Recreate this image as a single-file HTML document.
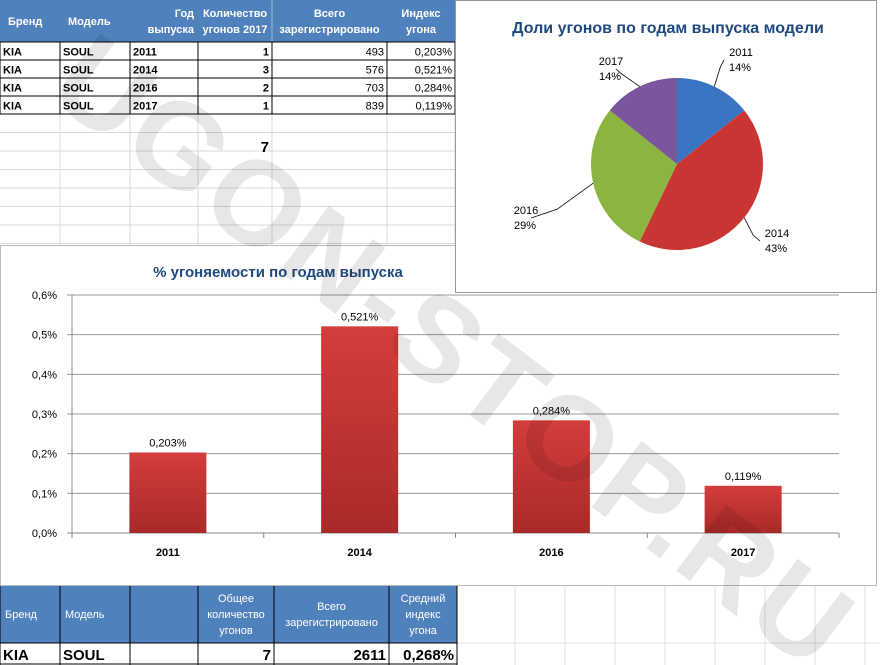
<!DOCTYPE html>
<html><head><meta charset="utf-8"><style>
html,body{margin:0;width:880px;height:665px;background:#fff;overflow:hidden;font-family:"Liberation Sans","DejaVu Sans",sans-serif;}
body{position:relative}
svg{position:absolute;left:0;top:0;display:block}
</style></head><body>
<svg id="s" width="880" height="665" font-family="Liberation Sans, DejaVu Sans, sans-serif" overflow="hidden">
<defs>
<linearGradient id="barg" x1="0" y1="0" x2="0" y2="1"><stop offset="0" stop-color="#d43d3b"/><stop offset="1" stop-color="#a82a28"/></linearGradient>
</defs>
<g id="gridG"></g>
<g id="topG"></g>
<g id="barG"></g>
<g id="pieG"></g>
<g id="botG"></g>
<text x="45" y="95" transform="rotate(37 45 95)" font-size="120" font-weight="bold" fill="#000" opacity="0.09" letter-spacing="4">UGON-STOP.RU</text>
</svg>
<script>
const NS='http://www.w3.org/2000/svg';
function mk(p,t,a,txt){const e=document.createElementNS(NS,t);for(const k in a)e.setAttribute(k,a[k]);if(txt!==undefined)e.textContent=txt;p.appendChild(e);return e;}
const gridG=document.getElementById('gridG'),topG=document.getElementById('topG'),barG=document.getElementById('barG'),pieG=document.getElementById('pieG'),botG=document.getElementById('botG');
// background grid
for(let y=114;y<245;y+=18.5){mk(gridG,'line',{x1:0,x2:455,y1:y,y2:y,stroke:'#d9d9d9'});}
[60,130,198,272,387,455].forEach(x=>mk(gridG,'line',{x1:x,x2:x,y1:42,y2:245,stroke:'#d9d9d9'}));
[515,565,615,665,715,765,815,865].forEach(x=>mk(gridG,'line',{x1:x,x2:x,y1:586,y2:665,stroke:'#e0e0e0'}));
mk(gridG,'line',{x1:457,x2:880,y1:643,y2:643,stroke:'#e0e0e0'});
// top table
const cols=[0,60,130,198,272,387,455];
const brands=['KIA','KIA','KIA','KIA'];
const models=['SOUL','SOUL','SOUL','SOUL'];
const years=['2011','2014','2016','2017'];
const thefts=[1,3,2,1];
const regs=[493,576,703,839];
const idx=['0,203%','0,521%','0,284%','0,119%'];
mk(topG,'rect',{x:0,y:0,width:455,height:42,fill:'#4f81bd'});
const hdr=[['Бренд'],['Модель'],['Год','выпуска'],['Количество','угонов 2017'],['Всего','зарегистрировано'],['Индекс','угона']];
hdr.forEach((h,i)=>{const cx=(cols[i]+cols[i+1])/2;
 if(h.length==1){const t=mk(topG,'text',{x:i<2?cols[i]+8:cx,y:25,'font-size':11,'font-weight':'bold',fill:'#fff','text-anchor':i<2?'start':'middle'},h[0]);}
 else{h.forEach((s,j)=>{const t=mk(topG,'text',{x:i==2?cols[i+1]-4:cx,y:17+j*16,'font-size':11,'font-weight':'bold',fill:'#fff','text-anchor':i==2?'end':'middle'},s);});}
});
mk(topG,'line',{x1:272,x2:272,y1:0,y2:42,stroke:'#9fb6d6'});
for(let r=0;r<4;r++){const y=42+r*18;
 const vals=[brands[r],models[r],years[r],String(thefts[r]),String(regs[r]),idx[r]];
 vals.forEach((v,i)=>{const right=i>=3;const t=mk(topG,'text',{x:right?cols[i+1]-3:cols[i]+3,y:y+13.5,'font-size':11,'font-weight':i<4?'bold':'normal',fill:'#000','text-anchor':right?'end':'start'},v);});
}
for(let r=0;r<=4;r++)mk(topG,'line',{x1:0,x2:455,y1:42+r*18,y2:42+r*18,stroke:'#000'});
cols.forEach(x=>mk(topG,'line',{x1:x,x2:x,y1:42,y2:114,stroke:'#000'}));
const tot=mk(topG,'text',{x:269,y:152,'font-size':15,'font-weight':'bold','text-anchor':'end'},'7');


// bar chart
const barCats=['2011','2014','2016','2017'];
const barVals=[0.203,0.521,0.284,0.119];
const barLabels=['0,203%','0,521%','0,284%','0,119%'];
const yTicks=[0,0.1,0.2,0.3,0.4,0.5,0.6];
const yTickLabels=['0,0%','0,1%','0,2%','0,3%','0,4%','0,5%','0,6%'];
mk(barG,'rect',{x:0.5,y:245.5,width:876,height:340,fill:'#fff',stroke:'#bbb'});
const X0=72,X1=839,Y0=533,Y1=295,YMAX=0.6;
const ys=v=>Y0-(v/YMAX)*(Y0-Y1);
const cw=(X1-X0)/barCats.length;
const xs=i=>X0+cw*(i+0.5);
const bt=mk(barG,'text',{x:278,y:277,'font-size':15,'font-weight':'bold',fill:'#1f497d','text-anchor':'middle'},'% угоняемости по годам выпуска');

yTicks.forEach((v,i)=>{const y=ys(v);
 mk(barG,'line',{x1:X0-5,x2:X1,y1:y,y2:y,stroke:i==0?'#888':'#999'});
 const t=mk(barG,'text',{x:57,y:y+4,'font-size':11,'text-anchor':'end',fill:'#000'},yTickLabels[i]);
 });
mk(barG,'line',{x1:X0,x2:X0,y1:Y1,y2:Y0+5,stroke:'#888'});
for(let i=0;i<=barCats.length;i++)mk(barG,'line',{x1:X0+cw*i,x2:X0+cw*i,y1:Y0,y2:Y0+5,stroke:'#888'});
barCats.forEach((c,i)=>{const bw=77,x=xs(i)-bw/2,y=ys(barVals[i]);
 const r=mk(barG,'rect',{x:x,y:y,width:bw,height:Y0-y,fill:'url(#barg)'});
 
 const l=mk(barG,'text',{x:xs(i),y:y-6,'font-size':11,'text-anchor':'middle'},barLabels[i]);
 
 const xl=mk(barG,'text',{x:xs(i),y:556,'font-size':11,'font-weight':'bold','text-anchor':'middle'},c);
 });

// pie chart
const pieCats=['2011','2014','2016','2017'];
const pieVals=[1,3,2,1];
const pieColors=['#3a75c4','#c83532','#8cb440','#7b559e'];
mk(pieG,'rect',{x:455.5,y:0.5,width:421,height:292,fill:'#fff',stroke:'#999'});
const pt=mk(pieG,'text',{x:668,y:33,'font-size':16,'font-weight':'bold',fill:'#1f497d','text-anchor':'middle'},'Доли угонов по годам выпуска модели');

const CX=677,CY=164,R=86;const tot2=pieVals.reduce((a,b)=>a+b,0);
let a0=-Math.PI/2;
const lblPos=[[728,52],[764,233],[513,210],[598,61]];
pieCats.forEach((c,i)=>{const a1=a0+pieVals[i]/tot2*2*Math.PI;
 const p=`M${CX},${CY} L${CX+R*Math.cos(a0)},${CY+R*Math.sin(a0)} A${R},${R} 0 ${a1-a0>Math.PI?1:0} 1 ${CX+R*Math.cos(a1)},${CY+R*Math.sin(a1)} Z`;
 const s=mk(pieG,'path',{d:p,fill:pieColors[i]});
 const am=(a0+a1)/2;const ex=CX+R*Math.cos(am),ey=CY+R*Math.sin(am);
 const [lx,ly]=lblPos[i];
 mk(pieG,'polyline',{points:`${ex},${ey} ${ex+(lx-ex)*0.45},${ey+(ly+8-ey)*0.75} ${lx+(lx>CX?-4:18)},${ly+8}`,fill:'none',stroke:'#000','stroke-width':0.8});
 const pct=Math.round(pieVals[i]/tot2*100)+'%';
 const t1=mk(pieG,'text',{x:lx+13,y:ly+4,'font-size':11,'text-anchor':'middle'},c);
 
 const t2=mk(pieG,'text',{x:lx+12,y:ly+19,'font-size':11,'text-anchor':'middle'},pct);
 
 a0=a1;});

// summary table
const bc=[0,60,130,198,274,389,457];
mk(botG,'rect',{x:0,y:586,width:457,height:57,fill:'#4f81bd'});
const bh=[['Бренд'],['Модель'],[],['Общее','количество','угонов'],['Всего','зарегистрировано'],['Средний','индекс','угона']];
bh.forEach((h,i)=>{const cx=(bc[i]+bc[i+1])/2;const y0=618-(h.length-1)*8;
 h.forEach((s,j)=>{const t=mk(botG,'text',{x:i<2?bc[i]+5:cx,y:y0+j*16,'font-size':11,fill:'#fff','text-anchor':i<2?'start':'middle'},s);});});
bc.forEach(x=>mk(botG,'line',{x1:x,x2:x,y1:586,y2:665,stroke:'#000'}));
mk(botG,'line',{x1:0,x2:457,y1:643,y2:643,stroke:'#000'});
mk(botG,'line',{x1:0,x2:457,y1:664,y2:664,stroke:'#000'});
const sv=[['KIA','start'],['SOUL','start'],['',''],['7','end'],['2611','end'],['0,268%','end']];
sv.forEach((v,i)=>{if(!v[0])return;const t=mk(botG,'text',{x:v[1]=='end'?bc[i+1]-3:bc[i]+3,y:660,'font-size':15,'font-weight':'bold','text-anchor':v[1]},v[0]);});
</script>
</body></html>
